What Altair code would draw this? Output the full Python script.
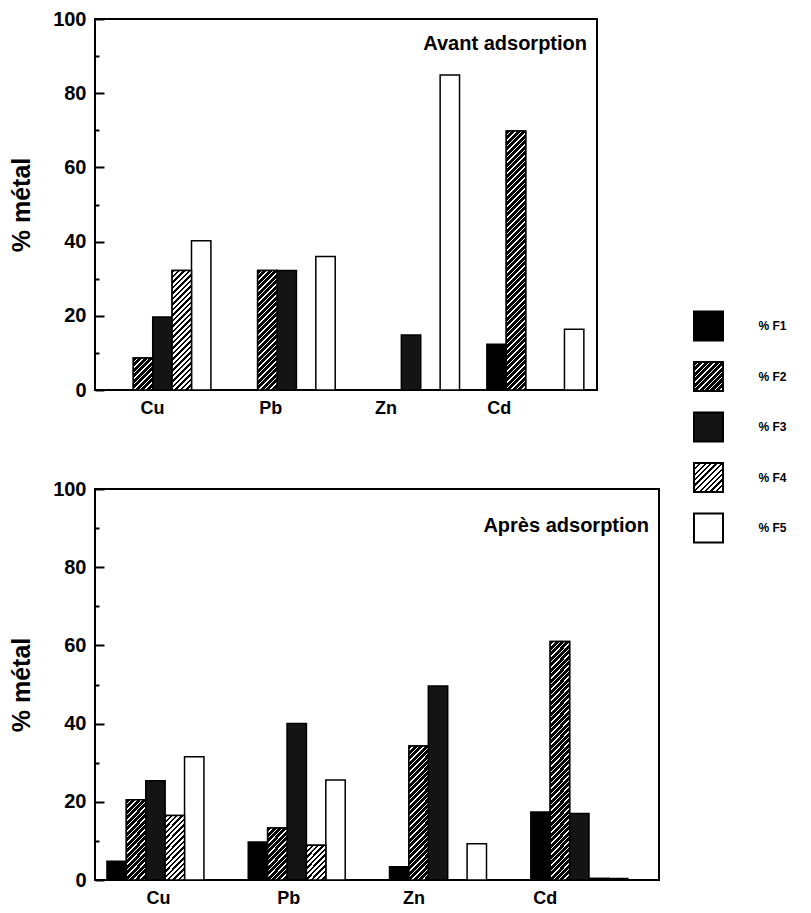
import altair as alt
import pandas as pd

FONT = "Liberation Sans"

metals = ["Cu", "Pb", "Zn", "Cd"]
fractions = ["% F1", "% F2", "% F3", "% F4", "% F5"]
y_ticks = [0, 20, 40, 60, 80, 100]
minor_ticks = [0, 10, 20, 30, 40, 50, 60, 70, 80, 90, 100]

# Avant adsorption (values per metal: Cu, Pb, Zn, Cd)
avant_f1 = [0, 0, 0, 12.3]
avant_f2 = [8.6, 32.2, 0, 69.8]
avant_f3 = [19.7, 32.2, 14.8, 0]
avant_f4 = [32.2, 0, 0, 0]
avant_f5 = [40.2, 36.0, 84.9, 16.4]

# Après adsorption
apres_f1 = [4.8, 9.7, 3.4, 17.4]
apres_f2 = [20.5, 13.3, 34.3, 61.0]
apres_f3 = [25.4, 40.0, 49.6, 17.0]
apres_f4 = [16.5, 8.9, 0, 0.4]
apres_f5 = [31.5, 25.6, 9.3, 0.4]

# horizontal shift of each category label in the original scan (px)
avant_label_shift = [-10, -16, -25, -36]
apres_label_shift = [2, -9, -25, -35]

solid_fill = ["black", "black", "#141414", "white", "white"]
# hatch style: (horizontal period px, fraction of first colour, first colour, second colour)
HATCH = {"% F2": (5.5, 0.74, "black", "white"),
         "% F4": (5.5, 0.45, "black", "white")}


def stripes(w, h, period, frac_first, c1, c2):
    s = (w + h) / (w * w + h * h)
    dt = period / (w + h)
    stops = []
    last = 0.0
    t = 0.0
    while t < 1.0 - 1e-9:
        t1 = min(t + frac_first * dt, 1.0)
        t2 = min(t + dt, 1.0)
        for off, col in ((t, c1), (t1, c1), (t1, c2), (t2, c2)):
            off = max(round(off, 5), last)
            last = off
            stops.append({"offset": off, "color": col})
        t += dt
    return {"gradient": "linear", "x1": 0, "y1": 0,
            "x2": round(w * s, 5), "y2": round(h * s, 5), "stops": stops}


def panel(series, title, W, H, pi, po, align, title_y, label_shift):
    rows = []
    for f, arr in zip(fractions, series):
        for m, v in zip(metals, arr):
            if v > 0:
                rows.append({"metal": m, "frac": f, "value": v})
    df = pd.DataFrame(rows)
    step = W / (len(metals) - pi + 2 * po)
    bw = step * (1 - pi) / len(fractions)

    xs = alt.Scale(domain=metals, paddingInner=pi, paddingOuter=po, align=align)
    xo = alt.Scale(domain=fractions, paddingInner=0, paddingOuter=0)
    ys = alt.Scale(domain=[0, 100], nice=False)

    label_offset = {
        "condition": [{"test": "datum.value === '%s'" % m, "value": s}
                      for m, s in zip(metals, label_shift)],
        "value": 0,
    }
    x_axis = alt.Axis(title=None, orient="bottom", labelAngle=0, labelFontSize=18,
                      labelPadding=9, ticks=False, domain=False,
                      labelOffset=label_offset)
    y_axis = alt.Axis(title="% métal", orient="left", values=y_ticks, ticks=False,
                      domain=False, grid=False, labelFontSize=20, labelPadding=9,
                      titleFontSize=25, titlePadding=18)

    main = alt.Chart(df).mark_bar(stroke="black", strokeWidth=1.5).encode(
        x=alt.X("metal:N", scale=xs, axis=x_axis, sort=metals),
        xOffset=alt.XOffset("frac:N", scale=xo, sort=fractions),
        y=alt.Y("value:Q", scale=ys, axis=y_axis),
        fill=alt.Fill("frac:N", scale=alt.Scale(domain=fractions, range=solid_fill),
                      legend=None),
    )
    layers = [main]
    for r in rows:
        if r["frac"] in HATCH:
            h = max(r["value"] * H / 100.0, 1.0)
            grad = stripes(bw, h, *HATCH[r["frac"]])
            layers.append(
                alt.Chart(pd.DataFrame([r])).mark_bar(
                    fill=grad, stroke="black", strokeWidth=1.5
                ).encode(
                    x=alt.X("metal:N", scale=xs, axis=None),
                    xOffset=alt.XOffset("frac:N", scale=xo),
                    y=alt.Y("value:Q", scale=ys, axis=None),
                )
            )
    txt = alt.Chart(pd.DataFrame({"t": [title]})).mark_text(
        align="right", baseline="alphabetic", font=FONT, fontSize=20,
        fontWeight="bold", color="black"
    ).encode(text="t:N", x=alt.value(W - 10), y=alt.value(title_y))
    layers.append(txt)

    tick_axis = alt.Axis(orient="right", offset=-W, values=minor_ticks, labels=False,
                         domain=False, grid=False, title=None, tickColor="black",
                         tickWidth=2,
                         tickSize={"condition": {"test": "datum.value % 20 === 0",
                                                 "value": 9}, "value": 4})
    ticks = alt.Chart(df).mark_bar(opacity=0).encode(
        x=alt.X("metal:N", scale=xs, axis=None),
        xOffset=alt.XOffset("frac:N", scale=xo),
        y=alt.Y("value:Q", scale=ys, axis=tick_axis),
    )
    layers.append(ticks)
    return alt.layer(*layers).resolve_axis(x="independent", y="independent").properties(
        width=W, height=H)


top = panel([avant_f1, avant_f2, avant_f3, avant_f4, avant_f5],
            "Avant adsorption", 502, 371, 0.22, 0.129, 0.59, 31, avant_label_shift)
bottom = panel([apres_f1, apres_f2, apres_f3, apres_f4, apres_f5],
               "Après adsorption", 564, 391, 0.3, 0.146, 0.29, 43, apres_label_shift)

# legend
LEG_H = 860
LEG_SIDE = 29
spacing_px = 50.5
first_px = 307
d0 = -first_px / spacing_px
d1 = d0 + LEG_H / spacing_px
leg_df = pd.DataFrame({"frac": fractions, "idx": list(range(len(fractions)))})
ly = alt.Y("idx:Q", scale=alt.Scale(domain=[d0, d1], reverse=True, nice=False, zero=False),
           axis=None)
leg_main = alt.Chart(leg_df).mark_square(size=LEG_SIDE * LEG_SIDE, filled=True,
                                          stroke="black", strokeWidth=2, opacity=1).encode(
    y=ly,
    fill=alt.Fill("frac:N", scale=alt.Scale(domain=fractions, range=solid_fill), legend=None),
)
leg_layers = [leg_main]
for f, (period, ff, c1, c2) in HATCH.items():
    g = stripes(LEG_SIDE, LEG_SIDE, period, ff, c1, c2)
    leg_layers.append(
        alt.Chart(leg_df[leg_df.frac == f]).mark_square(
            size=LEG_SIDE * LEG_SIDE, filled=True, fill=g, stroke="black",
            strokeWidth=2, opacity=1).encode(y=ly))
leg_text = alt.Chart(leg_df).mark_text(align="left", dx=50, font=FONT, fontSize=12,
                                        fontWeight="bold", color="black").encode(
    y=ly, text="frac:N")
leg_layers.append(leg_text)
legend = alt.layer(*leg_layers).properties(
    width=55, height=LEG_H, view=alt.ViewBackground(stroke="transparent"))

left = alt.vconcat(top, bottom, spacing=60)
chart = alt.hconcat(left, legend, spacing=20).properties(
    padding={"left": 0, "top": 0, "right": 5, "bottom": 0},
    background="white",
).configure_view(stroke="black", strokeWidth=2).configure_axis(
    labelFont=FONT, labelFontWeight="bold", labelColor="black",
    titleFont=FONT, titleFontWeight="bold", titleColor="black"
)

chart.save("out.html", embed_options={"renderer": "svg", "actions": False})
